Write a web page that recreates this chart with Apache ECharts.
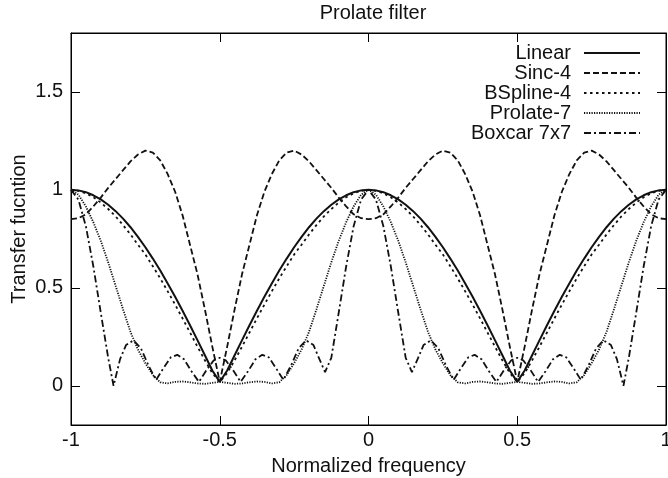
<!DOCTYPE html>
<html>
<head>
<meta charset="utf-8">
<script src="https://cdn.jsdelivr.net/npm/echarts@6/dist/echarts.min.js"></script>
<style>html,body{margin:0;padding:0;background:#fff}#c{width:668px;height:478px}</style>
</head>
<body>
<div id="c"></div>
<script>
// ---- data ----
var freq = [-1,-0.975,-0.95,-0.925,-0.9,-0.875,-0.85,-0.825,-0.8,-0.775,-0.75,-0.725,-0.7,-0.675,-0.65,-0.625,-0.6,-0.575,-0.55,-0.525,
  -0.5,-0.475,-0.45,-0.425,-0.4,-0.375,-0.35,-0.325,-0.3,-0.275,-0.25,-0.225,-0.2,-0.175,-0.15,-0.125,-0.1,-0.075,-0.05,-0.025,
  0,0.025,0.05,0.075,0.1,0.125,0.15,0.175,0.2,0.225,0.25,0.275,0.3,0.325,0.35,0.375,0.4,0.425,0.45,0.475,
  0.5,0.525,0.55,0.575,0.6,0.625,0.65,0.675,0.7,0.725,0.75,0.775,0.8,0.825,0.85,0.875,0.9,0.925,0.95,0.975,1];

var linear = [1,.997,.988,.972,.951,.924,.891,.853,.809,.76,.707,.649,.588,.522,.454,.383,.309,.233,.156,.078,.02,
  .078,.156,.233,.309,.383,.454,.522,.588,.649,.707,.76,.809,.853,.891,.924,.951,.972,.988,.997,1,
  .997,.988,.972,.951,.924,.891,.853,.809,.76,.707,.649,.588,.522,.454,.383,.309,.233,.156,.078,.02,
  .078,.156,.233,.309,.383,.454,.522,.588,.649,.707,.76,.809,.853,.891,.924,.951,.972,.988,.997,1];

var sinc4 = [.85,.855,.875,.915,.96,1.01,1.055,1.1,1.145,1.18,1.2,1.19,1.15,1.08,.99,.87,.72,.57,.39,.2,.02,
  .2,.39,.57,.72,.87,.99,1.08,1.15,1.19,1.2,1.18,1.145,1.1,1.055,1.01,.96,.915,.875,.855,.85,
  .855,.875,.915,.96,1.01,1.055,1.1,1.145,1.18,1.2,1.19,1.15,1.08,.99,.87,.72,.57,.39,.2,.02,
  .2,.39,.57,.72,.87,.99,1.08,1.15,1.19,1.2,1.18,1.145,1.1,1.055,1.01,.96,.915,.875,.855,.85];

var bspline4 = [1,.995,.982,.962,.935,.902,.864,.82,.772,.72,.67,.61,.548,.482,.414,.344,.272,.2,.13,.065,.02,
  .065,.13,.2,.272,.344,.414,.482,.548,.61,.67,.72,.772,.82,.864,.902,.935,.962,.982,.995,1,
  .995,.982,.962,.935,.902,.864,.82,.772,.72,.67,.61,.548,.482,.414,.344,.272,.2,.13,.065,.02,
  .065,.13,.2,.272,.344,.414,.482,.548,.61,.67,.72,.772,.82,.864,.902,.935,.962,.982,.995,1];

var prolate7 = [1,.975,.915,.835,.74,.63,.51,.39,.275,.185,.115,.055,.018,.012,.02,.022,.018,.012,.01,.015,.02,
  .015,.01,.012,.018,.022,.02,.012,.018,.055,.115,.185,.275,.39,.51,.63,.74,.835,.915,.975,1,
  .975,.915,.835,.74,.63,.51,.39,.275,.185,.115,.055,.018,.012,.02,.022,.018,.012,.01,.015,.02,
  .015,.01,.012,.018,.022,.02,.012,.018,.055,.115,.185,.275,.39,.51,.63,.74,.835,.915,.975,1];

var boxFreq = [-1,-0.975,-0.95,-0.925,-0.9,-0.875,-0.857,-0.835,-0.815,-0.79,-0.765,-0.74,-0.714,-0.69,-0.665,-0.643,-0.62,-0.595,-0.57,-0.545,-0.52,
  -0.5,-0.48,-0.455,-0.43,-0.405,-0.38,-0.357,-0.335,-0.31,-0.286,-0.26,-0.235,-0.21,-0.185,-0.165,-0.146,-0.125,-0.1,-0.075,-0.05,-0.025,
  0,0.025,0.05,0.075,0.1,0.125,0.146,0.165,0.185,0.21,0.235,0.26,0.286,0.31,0.335,0.357,0.38,0.405,0.43,0.455,0.48,
  0.5,0.52,0.545,0.57,0.595,0.62,0.643,0.665,0.69,0.714,0.74,0.765,0.79,0.815,0.835,0.857,0.875,0.9,0.925,0.95,0.975,1];
var boxcar7 = [1,.95,.814,.61,.374,.143,0,.136,.208,.232,.191,.105,.03,.088,.145,.158,.135,.074,.02,.079,.13,
  .143,.13,.079,.02,.074,.135,.158,.145,.088,.03,.105,.191,.232,.208,.136,.07,.143,.374,.61,.814,.95,
  1,.95,.814,.61,.374,.143,.07,.136,.208,.232,.191,.105,.03,.088,.145,.158,.135,.074,.02,.079,.13,
  .143,.13,.079,.02,.074,.135,.158,.145,.088,.03,.105,.191,.232,.208,.136,0,.143,.374,.61,.814,.95,1];

var seriesNames = ['Linear','Sinc-4','BSpline-4','Prolate-7','Boxcar 7x7'];
var xTicks = [-1,-0.5,0,0.5,1];
var yTicks = [0,0.5,1,1.5];

function pairs(xs, ys){ return xs.map(function(x,i){ return [x, ys[i]]; }); }

var FONT = 'Liberation Sans, Arial, Helvetica, sans-serif';
var chart = echarts.init(document.getElementById('c'), null, {renderer:'canvas'});

var dashes = ['solid', [6,3], [2.5,3.5], [1.2,1.3], [7,3,2,3]];
var datas = [pairs(freq, linear), pairs(freq, sinc4), pairs(freq, bspline4), pairs(freq, prolate7), pairs(boxFreq, boxcar7)];

function ticks(vals){ return { show:true, inside:true, length:9, customValues:vals, lineStyle:{ color:'#000', width:1 } }; }
var lineAx = { show:true, onZero:false, lineStyle:{ color:'#000', width:1 } };

chart.setOption({
  animation:false,
  backgroundColor:'#fff',
  title:{ text:'Prolate filter', left:368, top:-2, textAlign:'center',
    textStyle:{ fontFamily:FONT, fontSize:20, fontWeight:'normal', color:'#111' } },
  legend:{ orient:'vertical', right:27, top:43, align:'right', padding:0,
    itemWidth:56, itemHeight:14, itemGap:0,
    itemStyle:{ opacity:0 },
    textStyle:{ fontFamily:FONT, fontSize:20, color:'#111', lineHeight:20, padding:[0,8,0,0] },
    data:seriesNames },
  grid:{ left:71, right:2, top:33, bottom:53, show:true, borderColor:'#000', borderWidth:1,
    outerBoundsMode:'none', containLabel:false },
  xAxis:[{ type:'value', min:-1, max:1, interval:0.5, position:'bottom',
      name:'Normalized frequency', nameLocation:'middle', nameGap:31, nameMoveOverlap:false,
      nameTextStyle:{ fontFamily:FONT, fontSize:20, color:'#111' },
      axisLine:lineAx,
      axisTick:ticks(xTicks),
      axisLabel:{ fontFamily:FONT, fontSize:20, color:'#111', margin:5, customValues:xTicks },
      splitLine:{ show:false } },
    { type:'value', min:-1, max:1, interval:0.5, position:'top',
      axisLine:lineAx,
      axisTick:ticks(xTicks),
      axisLabel:{ show:false }, splitLine:{ show:false } }],
  yAxis:[{ type:'value', min:-0.2, max:1.8, position:'left',
      name:'Transfer fucntion', nameLocation:'middle', nameGap:42, nameRotate:90, nameMoveOverlap:false,
      nameTextStyle:{ fontFamily:FONT, fontSize:20, color:'#111' },
      axisLine:lineAx,
      axisTick:ticks(yTicks),
      axisLabel:{ fontFamily:FONT, fontSize:20, color:'#111', margin:8, customValues:yTicks },
      splitLine:{ show:false } },
    { type:'value', min:-0.2, max:1.8, position:'right',
      axisLine:lineAx,
      axisTick:ticks(yTicks),
      axisLabel:{ show:false }, splitLine:{ show:false } }],
  series: seriesNames.map(function(n, i){
    return { name:n, type:'line', xAxisIndex:0, yAxisIndex:0, data:datas[i],
      showSymbol:false, symbol:'none', smooth:false, clip:true,
      lineStyle:{ color:'#111', width:i===0?2:1.8, type:dashes[i] },
      itemStyle:{ color:'#111' } };
  })
});
</script>
</body>
</html>
